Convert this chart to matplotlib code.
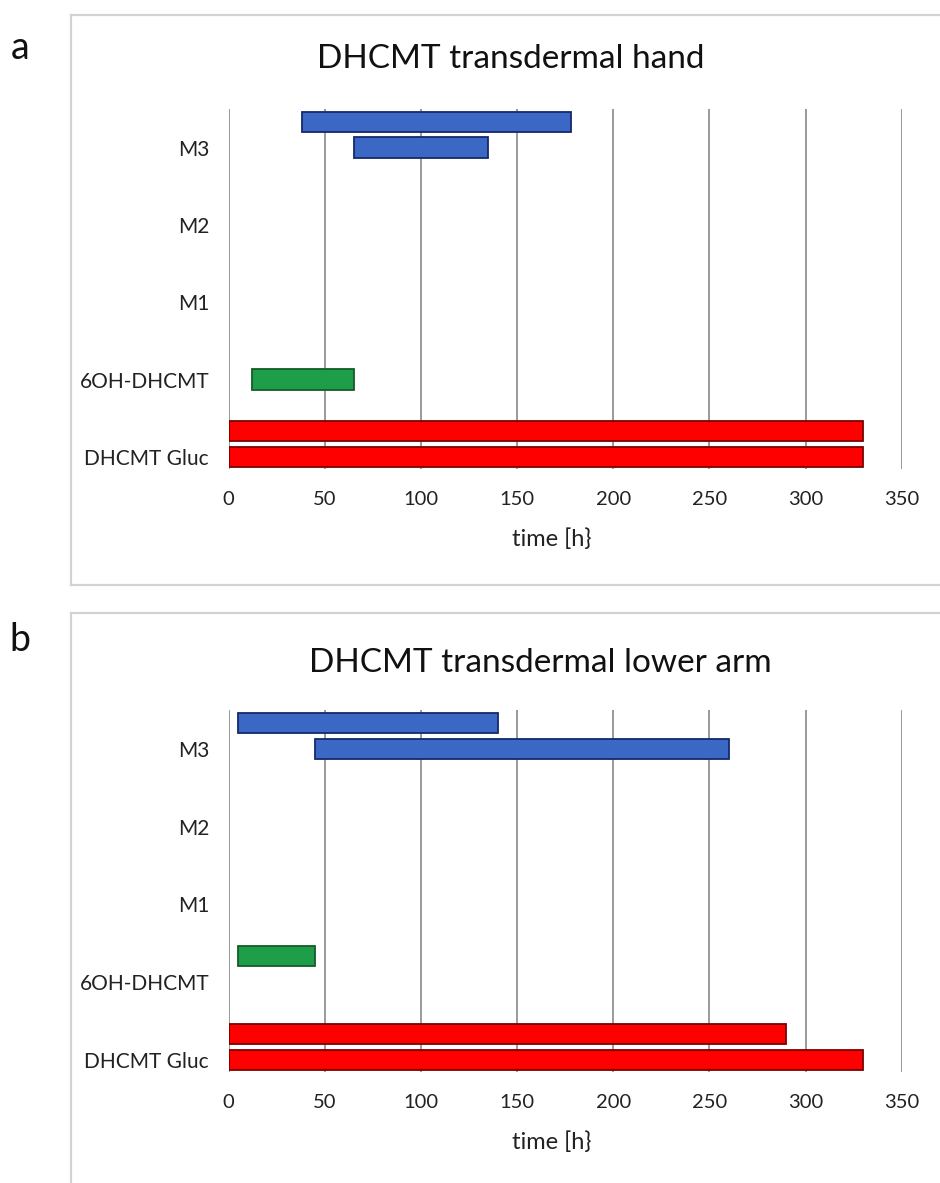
import numpy as np
import matplotlib
matplotlib.use("Agg")
import matplotlib.pyplot as plt
from matplotlib.lines import Line2D

plt.rcParams['font.family'] = ['Lato', 'DejaVu Sans']

# categories bottom -> top
categories = ['DHCMT Gluc', '6OH-DHCMT', 'M1', 'M2', 'M3']
ticks_x = [0, 50, 100, 150, 200, 250, 300, 350]

# detection windows [h], one entry per category (None = not detected)
# "upper" row of each cluster, then the "lower" row
hand_upper = [(0, 330), None, None, None, (38, 178)]
hand_lower = [(0, 330), (12, 65), None, None, (65, 135)]
arm_upper = [(0, 290), (5, 45), None, None, (5, 140)]
arm_lower = [(0, 330), None, None, None, (45, 260)]

fill = {'DHCMT Gluc': '#FF0000', '6OH-DHCMT': '#1E9E48', 'M1': '#3A68C4',
        'M2': '#3A68C4', 'M3': '#3A68C4'}
edge = {'DHCMT Gluc': '#7A0000', '6OH-DHCMT': '#145C2A', 'M1': '#14296B',
        'M2': '#14296B', 'M3': '#14296B'}

W, H = 940, 1183
fig = plt.figure(figsize=(W / 100, H / 100), dpi=100)


def px_axes(x0, y0, x1, y1):
    return fig.add_axes([x0 / W, 1 - y1 / H, (x1 - x0) / W, (y1 - y0) / H])


def draw_panel(ax, upper, lower, title, title_x, title_y, letter, letter_y):
    pos = np.arange(len(categories))
    for offset, rows in ((0.335, upper), (0.0, lower)):
        for i, cat in enumerate(categories):
            if rows[i] is None:
                continue
            start, end = rows[i]
            ax.barh(pos[i] + offset, end - start, left=start, height=0.265,
                    color=fill[cat], edgecolor=edge[cat], linewidth=1.3, zorder=3)
    ax.set_xlim(0, 350)
    ax.set_ylim(-0.155, 4.5)
    ax.set_xticks(ticks_x)
    ax.set_xticklabels([str(t) for t in ticks_x], fontsize=14.5, color='#222222')
    ax.set_yticks(pos)
    ax.set_yticklabels(categories, fontsize=15, color='#222222')
    ax.tick_params(length=0, axis='x', pad=16)
    ax.tick_params(length=0, axis='y', pad=14)
    for t in ticks_x:
        ax.axvline(t, color='#9a9a9a', lw=1.4, zorder=1)
    for s in ax.spines.values():
        s.set_visible(False)
    ax.set_xlabel('time [h}', fontsize=17, color='#222222')
    ax.xaxis.set_label_coords(0.48, -0.165)
    fig.text(title_x / W, 1 - title_y / H, title, fontsize=24, ha='center',
             va='center', color='#111111')
    fig.text(20 / W, 1 - letter_y / H, letter, fontsize=27, ha='center',
             va='center', color='#111111')


ax_a = px_axes(228.5, 109, 901.7, 469)
draw_panel(ax_a, hand_upper, hand_lower, 'DHCMT transdermal hand', 511, 59, 'a', 48)

ax_b = px_axes(228.5, 710, 901.7, 1072)
draw_panel(ax_b, arm_upper, arm_lower, 'DHCMT transdermal lower arm', 540, 663, 'b', 640)

# light frames around the two chart areas
frame = dict(color='#d2d2d2', lw=1.6, transform=fig.transFigure)
for x0, y0, y1, bottom in ((71, 15, 585, True), (71, 613, H + 5, False)):
    fig.add_artist(Line2D([x0 / W, 1], [1 - y0 / H, 1 - y0 / H], **frame))
    fig.add_artist(Line2D([x0 / W, x0 / W], [1 - y0 / H, 1 - y1 / H], **frame))
    if bottom:
        fig.add_artist(Line2D([x0 / W, 1], [1 - y1 / H, 1 - y1 / H], **frame))

fig.savefig('out.png', dpi=100)
